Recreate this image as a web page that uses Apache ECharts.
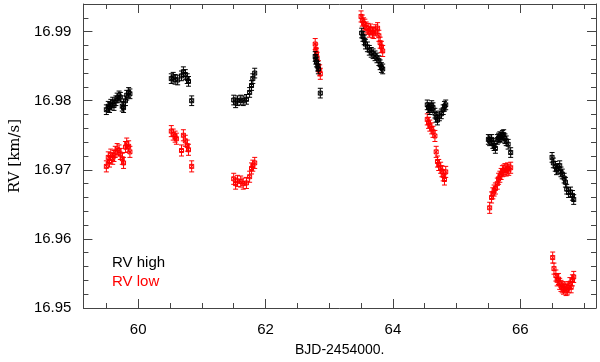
<!DOCTYPE html>
<html>
<head>
<meta charset="utf-8">
<script src="https://cdn.jsdelivr.net/npm/echarts@6/dist/echarts.min.js"></script>
<style>
  html, body { margin: 0; padding: 0; background: #fff; }
  #chart { width: 600px; height: 362px; }
</style>
</head>
<body>
<div id="chart"></div>
<script>
// axis ranges and tick positions
const xRange = [59.14, 67.19]
const yRange = [16.95, 16.994]
const xMajor = [60, 62, 64, 66]
const xMinor = [59.5, 60.5, 61, 61.5, 62.5, 63, 63.5, 64.5, 65, 65.5, 66.5, 67]
const yMajor = [16.95, 16.96, 16.97, 16.98, 16.99]
const yMinor = [16.952, 16.954, 16.956, 16.958, 16.962, 16.964, 16.966, 16.968,
  16.972, 16.974, 16.976, 16.978, 16.982, 16.984, 16.986, 16.988, 16.992]

// error (km/s) per point
const errHigh = 0.0007
const errLow = 0.0008

// RV high (black), by night
const high1 = [[59.50, 16.9787], [59.53, 16.9792], [59.55, 16.9790], [59.57, 16.9795], [59.60, 16.9798], [59.62, 16.9793], [59.65, 16.9800], [59.67, 16.9804], [59.70, 16.9807], [59.72, 16.9805], [59.75, 16.9792], [59.77, 16.9790], [59.80, 16.9800], [59.82, 16.9808], [59.85, 16.9812], [59.87, 16.9810]]
const high2 = [[60.52, 16.9832], [60.55, 16.9834], [60.58, 16.9831], [60.62, 16.9830], [60.68, 16.9836], [60.71, 16.9842], [60.74, 16.9838], [60.77, 16.9832], [60.79, 16.9828], [60.84, 16.9800]]
const high3 = [[61.50, 16.9801], [61.53, 16.9797], [61.56, 16.9800], [61.61, 16.9801], [61.65, 16.9800], [61.70, 16.9802], [61.75, 16.9812], [61.78, 16.9822], [61.80, 16.9832], [61.83, 16.9840]]
const high4 = [[62.78, 16.9864], [62.79, 16.9860], [62.80, 16.9856], [62.82, 16.9850], [62.83, 16.9846], [62.86, 16.9811]]
const high5 = [[63.51, 16.9898], [63.53, 16.9893], [63.55, 16.9888], [63.57, 16.9882], [63.60, 16.9878], [63.63, 16.9873], [63.66, 16.9870], [63.69, 16.9868], [63.72, 16.9865], [63.75, 16.9862], [63.78, 16.9858], [63.80, 16.9852], [63.82, 16.9848], [63.84, 16.9846]]
const high6 = [[64.54, 16.9794], [64.56, 16.9790], [64.58, 16.9787], [64.61, 16.9793], [64.63, 16.9790], [64.66, 16.9782], [64.68, 16.9776], [64.70, 16.9772], [64.73, 16.9778], [64.76, 16.9781], [64.79, 16.9787], [64.81, 16.9792], [64.83, 16.9794]]
const high7 = [[65.50, 16.9744], [65.52, 16.9742], [65.55, 16.9744], [65.57, 16.9738], [65.59, 16.9735], [65.61, 16.9731], [65.64, 16.9744], [65.66, 16.9746], [65.68, 16.9748], [65.70, 16.9747], [65.72, 16.9750], [65.74, 16.9751], [65.76, 16.9745], [65.78, 16.9742], [65.81, 16.9737], [65.85, 16.9725]]
const high8 = [[66.50, 16.9718], [66.52, 16.9710], [66.55, 16.9705], [66.57, 16.9700], [66.59, 16.9702], [66.62, 16.9706], [66.64, 16.9697], [66.66, 16.9694], [66.69, 16.9688], [66.71, 16.9682], [66.73, 16.9672], [66.76, 16.9667], [66.79, 16.9668], [66.82, 16.9663], [66.84, 16.9657]]

// RV low (red), by night
const low1 = [[59.50, 16.9705], [59.53, 16.9718], [59.55, 16.9712], [59.57, 16.9722], [59.60, 16.9716], [59.62, 16.9720], [59.64, 16.9726], [59.67, 16.9730], [59.70, 16.9728], [59.72, 16.9723], [59.75, 16.9716], [59.77, 16.9710], [59.80, 16.9733], [59.82, 16.9738], [59.85, 16.9734], [59.87, 16.9726]]
const low2 = [[60.52, 16.9756], [60.55, 16.9751], [60.58, 16.9748], [60.60, 16.9745], [60.68, 16.9728], [60.71, 16.9750], [60.74, 16.9742], [60.77, 16.9735], [60.79, 16.9729], [60.84, 16.9705]]
const low3 = [[61.50, 16.9687], [61.53, 16.9680], [61.56, 16.9684], [61.61, 16.9683], [61.65, 16.9680], [61.70, 16.9681], [61.75, 16.9690], [61.78, 16.9702], [61.80, 16.9706], [61.83, 16.9710]]
const low4 = [[62.78, 16.9882], [62.79, 16.9874], [62.80, 16.9868], [62.81, 16.9862], [62.83, 16.9850], [62.85, 16.9844], [62.86, 16.9839]]
const low5 = [[63.50, 16.9922], [63.52, 16.9916], [63.54, 16.9912], [63.56, 16.9910], [63.58, 16.9906], [63.61, 16.9904], [63.63, 16.9900], [63.65, 16.9903], [63.68, 16.9899], [63.70, 16.9898], [63.73, 16.9902], [63.76, 16.9905], [63.78, 16.9894], [63.80, 16.9884], [63.82, 16.9878], [63.84, 16.9872]]
const low6 = [[64.54, 16.9773], [64.56, 16.9768], [64.58, 16.9764], [64.61, 16.9760], [64.63, 16.9755], [64.66, 16.9749], [64.68, 16.9726], [64.70, 16.9712], [64.72, 16.9707], [64.75, 16.9703], [64.77, 16.9698], [64.79, 16.9692], [64.81, 16.9686], [64.83, 16.9697]]
const low7 = [[65.52, 16.9645], [65.55, 16.9660], [65.57, 16.9666], [65.59, 16.9670], [65.61, 16.9673], [65.64, 16.9680], [65.66, 16.9687], [65.68, 16.9690], [65.70, 16.9694], [65.72, 16.9698], [65.74, 16.9699], [65.76, 16.9701], [65.78, 16.9699], [65.80, 16.9702], [65.82, 16.9700], [65.85, 16.9703]]
const low8 = [[66.51, 16.9573], [66.53, 16.9557], [66.56, 16.9547], [66.58, 16.9540], [66.60, 16.9542], [66.62, 16.9535], [66.64, 16.9532], [66.66, 16.9530], [66.68, 16.9528], [66.70, 16.9530], [66.72, 16.9526], [66.74, 16.9527], [66.76, 16.9530], [66.78, 16.9536], [66.80, 16.9530], [66.82, 16.9540], [66.84, 16.9545]]

const highData = [].concat(high1, high2, high3, high4, high5, high6, high7, high8).map(d => [d[0], d[1], errHigh])
const lowData = [].concat(low1, low2, low3, low4, low5, low6, low7, low8).map(d => [d[0], d[1], errLow])

const axisColor = '#444'
const labelFont = 'Liberation Sans, Arial, sans-serif'

// point with error bar, small boxed cross marker
function errorBar(color) {
  return function(params, api) {
    const x = api.value(0)
    const y = api.value(1)
    const e = api.value(2)
    const p = api.coord([x, y])
    const hi = api.coord([x, y + e])
    const lo = api.coord([x, y - e])
    const cap = 2.5
    const s = 2
    const st = { stroke: color, lineWidth: 1, fill: null }
    return {
      type: 'group',
      children: [
        { type: 'line', shape: { x1: p[0], y1: hi[1], x2: p[0], y2: lo[1] }, style: st },
        { type: 'line', shape: { x1: p[0] - cap, y1: hi[1], x2: p[0] + cap, y2: hi[1] }, style: st },
        { type: 'line', shape: { x1: p[0] - cap, y1: lo[1], x2: p[0] + cap, y2: lo[1] }, style: st },
        { type: 'rect', shape: { x: p[0] - s, y: p[1] - s, width: 2 * s, height: 2 * s }, style: st },
        { type: 'line', shape: { x1: p[0] - s, y1: p[1] - s, x2: p[0] + s, y2: p[1] + s }, style: st },
        { type: 'line', shape: { x1: p[0] - s, y1: p[1] + s, x2: p[0] + s, y2: p[1] - s }, style: st }
      ]
    }
  }
}

function xAx(position, ticks, len, withLabels) {
  return {
    type: 'value',
    position: position,
    min: xRange[0],
    max: xRange[1],
    splitLine: { show: false },
    axisLine: { show: len > 6, onZero: false, lineStyle: { color: axisColor, width: 1 } },
    axisTick: { show: true, inside: true, length: len, customValues: ticks, lineStyle: { color: axisColor } },
    axisLabel: withLabels
      ? { show: true, customValues: xMajor, margin: 14, color: '#000', fontSize: 15, fontFamily: labelFont }
      : { show: false }
  }
}

function yAx(position, ticks, len, withLabels) {
  return {
    type: 'value',
    position: position,
    min: yRange[0],
    max: yRange[1],
    splitLine: { show: false },
    axisLine: { show: len > 6, onZero: false, lineStyle: { color: axisColor, width: 1 } },
    axisTick: { show: true, inside: true, length: len, customValues: ticks, lineStyle: { color: axisColor } },
    axisLabel: withLabels
      ? { show: true, customValues: yMajor, margin: 12, color: '#000', fontSize: 15, fontFamily: labelFont,
          formatter: v => v.toFixed(2) }
      : { show: false }
  }
}

const chart = echarts.init(document.getElementById('chart'))

const xAxes = [
  xAx('bottom', xMajor, 9, true),
  xAx('bottom', xMinor, 5, false),
  xAx('top', xMajor, 9, false),
  xAx('top', xMinor, 5, false)
]
Object.assign(xAxes[0], {
  name: 'BJD-2454000.',
  nameLocation: 'middle',
  nameGap: 35,
  nameTextStyle: { color: '#000', fontSize: 14, fontFamily: labelFont }
})

const yAxes = [
  yAx('left', yMajor, 9, true),
  yAx('left', yMinor, 5, false),
  yAx('right', yMajor, 9, false),
  yAx('right', yMinor, 5, false)
]
Object.assign(yAxes[0], {
  name: 'RV [km/s]',
  nameLocation: 'middle',
  nameGap: 58,
  nameTextStyle: { color: '#000', fontSize: 15, fontFamily: 'DejaVu Serif, serif' }
})

chart.setOption({
  animation: false,
  backgroundColor: '#fff',
  grid: { left: 76, right: 4, top: 4, bottom: 49, containLabel: false },
  legend: {
    orient: 'vertical',
    left: 102,
    top: 250,
    icon: 'none',
    itemWidth: 0,
    itemHeight: 0,
    itemGap: 4,
    textStyle: { fontSize: 15, fontFamily: labelFont },
    data: [
      { name: 'RV high', textStyle: { color: '#000' } },
      { name: 'RV low', textStyle: { color: '#ff0000' } }
    ]
  },
  xAxis: xAxes,
  yAxis: yAxes,
  series: [
    {
      name: 'RV high',
      type: 'custom',
      xAxisIndex: 0,
      yAxisIndex: 0,
      renderItem: errorBar('#000'),
      encode: { x: 0, y: 1 },
      data: highData,
      z: 3
    },
    {
      name: 'RV low',
      type: 'custom',
      xAxisIndex: 0,
      yAxisIndex: 0,
      renderItem: errorBar('#ff0000'),
      encode: { x: 0, y: 1 },
      data: lowData,
      z: 2
    }
  ]
})
</script>
</body>
</html>
